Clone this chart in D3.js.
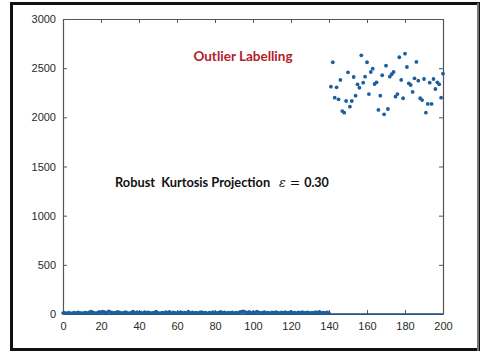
<!DOCTYPE html>
<html>
<head>
<meta charset="utf-8">
<script src="https://cdn.jsdelivr.net/npm/d3@7.9.0/dist/d3.min.js"></script>
<style>
  body { margin: 0; background: #fff; }
  svg { display: block; }
  .tick text { font-family: "Liberation Sans", Arial, sans-serif; font-size: 11px; fill: #2a2a2a; }
</style>
</head>
<body>
<svg id="chart" width="486" height="354"></svg>
<script>
// regular samples, index 1..140
const inlierValues = [
  12, 8, 15, 6, 10, 14, 9, 18, 11, 7,
  13, 16, 10, 20, 24, 14, 9, 12, 22, 17,
  25, 19, 13, 28, 21, 15, 11, 18, 23, 14,
  10, 16, 20, 12, 8, 17, 24, 13, 19, 11,
  15, 9, 21, 14, 18, 10, 12, 16, 26, 13,
  8, 15, 11, 19, 14, 22, 10, 17, 12, 9,
  14, 20, 11, 16, 13, 24, 10, 18, 12, 15,
  9, 17, 21, 11, 14, 8, 16, 12, 19, 10,
  13, 15, 22, 11, 17, 9, 14, 12, 18, 10,
  16, 13, 20, 24, 28, 19, 15, 22, 12, 17,
  14, 26, 18, 11, 16, 20, 13, 15, 9, 18,
  12, 21, 14, 10, 17, 13, 19, 11, 16, 22,
  12, 15, 9, 18, 13, 20, 11, 14, 17, 10,
  16, 12, 19, 14, 23, 11, 15, 13, 18, 10
];
// outliers, index 141..200
const outlierValues = [
  2312, 2560, 2200, 2305, 2183, 2380, 2064, 2047, 2166, 2458,
  2108, 2166, 2410, 2220, 2336, 2301, 2631, 2352, 2413, 2560,
  2237, 2461, 2495, 2339, 2356, 2075, 2220, 2428, 2031, 2525,
  2085, 2413, 2438, 2461, 2210, 2237, 2611, 2380, 2194, 2647,
  2512, 2346, 2329, 2258, 2397, 2563, 2373, 2194, 2176, 2390,
  2047, 2136, 2352, 2136, 2390, 2288, 2356, 2336, 2200, 2444
];
const xTicks = [0, 20, 40, 60, 80, 100, 120, 140, 160, 180, 200];
const yTicks = [0, 500, 1000, 1500, 2000, 2500, 3000];

const svg = d3.select('#chart');
const plotLeft = 63, plotRight = 443, plotTop = 19, plotBottom = 314;
const dotColor = '#1c5f9e';

// outer frame of the figure
svg.append('rect')
  .attr('x', 11.5).attr('y', 3.5)
  .attr('width', 467).attr('height', 346)
  .attr('fill', 'none')
  .attr('stroke', '#111')
  .attr('stroke-width', 3);
svg.append('line')
  .attr('x1', 478).attr('x2', 478).attr('y1', 3).attr('y2', 351)
  .attr('stroke', '#777').attr('stroke-width', 2);

let x = d3.scaleLinear().domain([0, 200]).range([plotLeft, plotRight]);
let y = d3.scaleLinear().domain([0, 3000]).range([plotBottom, plotTop]);

// axes with inward ticks, box style
svg.append('g')
  .attr('transform', `translate(0,${plotBottom})`)
  .call(d3.axisBottom(x).tickValues(xTicks).tickFormat(d3.format('d')).tickSizeInner(-4).tickSizeOuter(0).tickPadding(8));
svg.append('g')
  .attr('transform', `translate(${plotLeft},0)`)
  .call(d3.axisLeft(y).tickValues(yTicks).tickFormat(d3.format('d')).tickSizeInner(-4).tickSizeOuter(0).tickPadding(7));
svg.append('g')
  .attr('transform', `translate(0,${plotTop})`)
  .call(d3.axisTop(x).tickValues(xTicks).tickSizeInner(-4).tickSizeOuter(0).tickFormat(''));
svg.append('g')
  .attr('transform', `translate(${plotRight},0)`)
  .call(d3.axisRight(y).tickValues(yTicks).tickSizeInner(-4).tickSizeOuter(0).tickFormat(''));

svg.selectAll('.domain').attr('stroke', '#555').attr('stroke-width', 1.2);
svg.selectAll('.tick line').attr('stroke', '#555');

// bottom axis line drawn bluish like in the picture
svg.append('line')
  .attr('x1', x(0)).attr('x2', x(200))
  .attr('y1', y(0)).attr('y2', y(0))
  .attr('stroke', '#1d4f85').attr('stroke-width', 1.5);

// points
const inliers = inlierValues.map((v, i) => ({ idx: i + 1, value: v }));
const outliers = outlierValues.map((v, i) => ({ idx: i + 141, value: v }));

svg.append('g').selectAll('circle')
  .data(inliers)
  .join('circle')
  .attr('cx', d => x(d.idx))
  .attr('cy', d => y(d.value))
  .attr('r', 1.8)
  .attr('fill', dotColor);
svg.append('circle')
  .attr('cx', x(0)).attr('cy', y(10)).attr('r', 1.8).attr('fill', dotColor);

svg.append('g').selectAll('circle')
  .data(outliers)
  .join('circle')
  .attr('cx', d => x(d.idx))
  .attr('cy', d => y(d.value))
  .attr('r', 1.9)
  .attr('fill', dotColor);

// annotations
svg.append('text')
  .attr('x', 243).attr('y', 61)
  .attr('text-anchor', 'middle')
  .attr('font-family', 'Lato, "Open Sans", sans-serif')
  .attr('font-weight', 'bold')
  .attr('font-size', '13.5px')
  .attr('fill', '#b2202a')
  .text('Outlier Labelling');

svg.append('text')
  .attr('x', 115).attr('y', 187)
  .attr('font-family', 'Lato, "Open Sans", sans-serif')
  .attr('font-weight', 'bold')
  .attr('font-size', '12.8px')
  .attr('fill', '#111')
  .attr('xml:space', 'preserve')
  .text('Robust  Kurtosis Projection');

let eps = svg.append('text')
  .attr('x', 279).attr('y', 187)
  .attr('font-size', '12.5px')
  .attr('fill', '#111');
eps.append('tspan')
  .attr('font-family', '"DejaVu Serif", serif')
  .attr('font-style', 'italic')
  .text('ε');
eps.append('tspan')
  .attr('font-family', '"DejaVu Serif", serif')
  .text(' = ');
eps.append('tspan')
  .attr('font-family', 'Lato, sans-serif')
  .attr('font-weight', 'bold')
  .text('0.30');
</script>
</body>
</html>
